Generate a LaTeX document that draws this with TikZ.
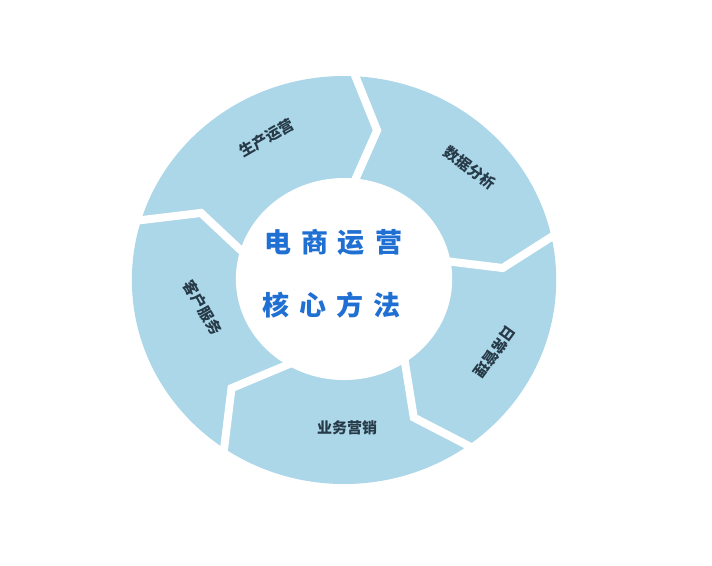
\documentclass[tikz,border=0pt]{standalone}
\usepackage{fontspec}
\usepackage{xcolor}
\usepackage{tikz}
\usetikzlibrary{positioning,calc}
\newfontfamily\cjk{Noto Sans CJK SC}
\definecolor{ringblue}{RGB}{172,215,232}
\definecolor{labeldark}{RGB}{38,58,72}
\definecolor{coreblue}{RGB}{32,112,212}

\begin{document}
\begin{tikzpicture}[
    x=1.04bp, y=1bp,
    seglabel/.style={font=\cjk\bfseries\fontsize{15bp}{17bp}\selectfont, text=labeldark, inner sep=0pt},
    coretext/.style={font=\cjk\bfseries\fontsize{27bp}{30bp}\selectfont, text=coreblue, inner sep=1pt},
    gapline/.style={white, line width=8bp, line join=miter, line cap=butt}
]
    \useasboundingbox (-330.8,-285) rectangle (353.8,280);

    % Ring
    \fill[ringblue] (0,0) circle [x radius=204, y radius=204];

    % Gaps between the five segments (inner / tip / outer angle)
    \foreach \a/\t/\b in {86/78/89, 13/4.5/14, -51/-64/-52, 242/225/238, 168/154/165} {
        \draw[gapline] (\a:90) -- (\t:153) -- (\b:222);
    }

    % Centre disc
    \fill[white] (0,1) circle [x radius=104, y radius=101];

    % Segment labels
    \node[seglabel, rotate=30]   (shengchan) at (-74,142)  {生产运营};
    \node[seglabel, rotate=-36]  (shuju)     at (121,112)  {数据分析};
    \node[seglabel, rotate=-126] (richang)   at (145,-72)  {日常管理};
    \node[seglabel]              (yewu)      at (3,-148)   {业务营销};
    \node[seglabel, rotate=-60]  (kehu)      at (-136,-28) {客户服务};

    % Centre title
    \node[coretext] (title1) at (-10.6,38) {电\hspace{10bp}商\hspace{10bp}运\hspace{10bp}营};
    \node[coretext] (title2) at (-12,-25)  {核\hspace{10bp}心\hspace{10bp}方\hspace{10bp}法};
\end{tikzpicture}
\end{document}
